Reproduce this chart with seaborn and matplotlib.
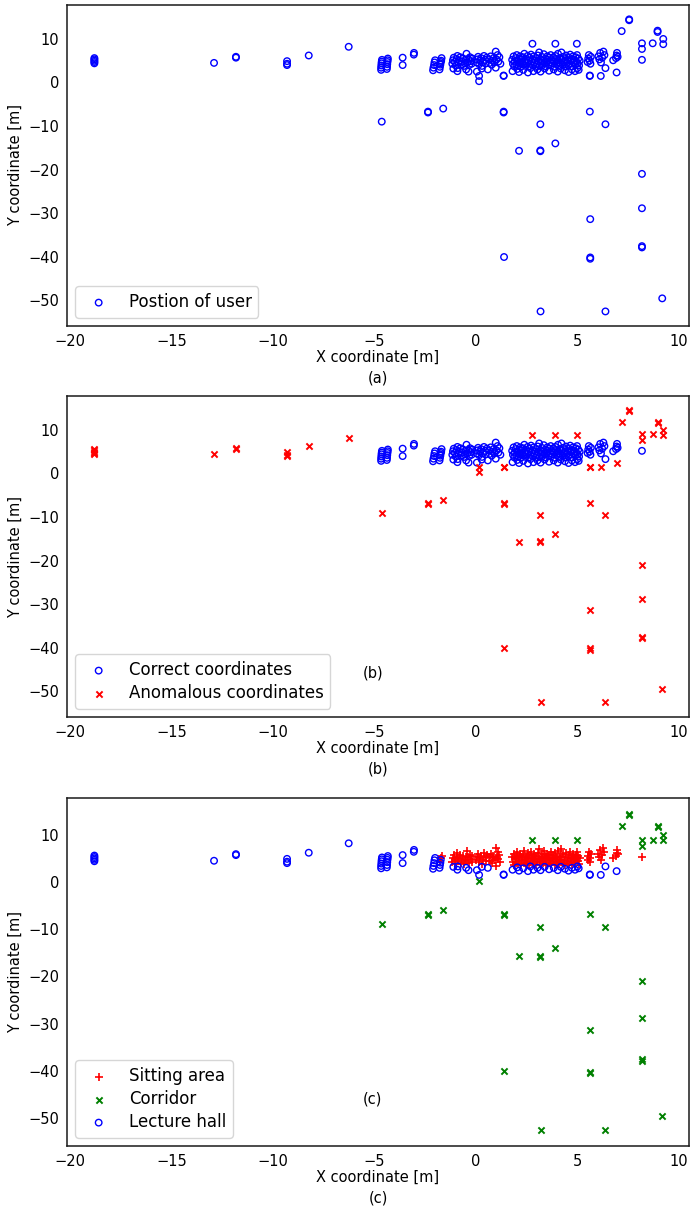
import matplotlib
matplotlib.use("Agg")
import matplotlib.pyplot as plt
import seaborn as sns

# ---------------- data ----------------
# Sitting area points (red "+", correct coordinates)
sitting_x = [-1.75, -1.70, -1.68,
             -1.15, -1.12, -1.08, -1.02, -0.98, -0.94, -0.90, -0.86, -0.80, -0.76, -0.72, -0.68,
             -0.62, -0.58, -0.54, -0.50, -0.45, -0.41, -0.37, -0.32, -0.28, -0.24, -0.20, -0.16,
             0.04, 0.08, 0.12, 0.18, 0.22, 0.27, 0.31, 0.36, 0.41, 0.46, 0.50, 0.55,
             0.66, 0.70, 0.74, 0.79, 0.84, 0.88, 0.93, 0.99, 0.99, 1.03, 1.08, 1.12, 1.17, 1.22,
             1.80, 1.84, 1.87, 1.90, 1.93, 1.97, 2.00, 2.03, 2.06, 2.10, 2.13, 2.16, 2.20, 2.23,
             2.26, 2.30, 2.33, 2.36, 2.40, 2.43, 2.46, 2.50, 2.53, 2.56, 2.60, 2.63, 2.66, 2.70,
             2.73, 2.76, 2.80, 2.83, 2.86, 2.90, 2.93, 2.96, 3.00, 3.03, 3.06, 3.10, 3.13, 3.16,
             3.20, 3.23, 3.26, 3.30, 3.33, 3.36, 3.40, 3.43, 3.46, 3.50, 3.53, 3.56, 3.60, 3.63,
             3.66, 3.70, 3.73, 3.76, 3.80, 3.83, 3.86, 3.90, 3.93, 3.96, 4.00, 4.03, 4.06, 4.10,
             4.13, 4.16, 4.20, 4.23, 4.26, 4.30, 4.33, 4.36, 4.40, 4.43, 4.46, 4.50, 4.53, 4.56,
             4.60, 4.63, 4.66, 4.70, 4.73, 4.76, 4.80, 4.83, 4.86, 4.90, 4.93, 4.96, 5.00, 5.03,
             5.06, 5.10, 5.13,
             5.52, 5.55, 5.58, 5.62, 5.66, 5.68,
             6.05, 6.10, 6.14, 6.18, 6.24, 6.30, 6.35,
             6.78, 6.92, 6.95, 6.97, 7.00,
             8.20]
sitting_y = [4.4, 5.0, 5.6,
             4.3, 5.1, 5.7, 4.7, 3.9, 5.4, 6.1, 4.5, 5.0, 5.8, 4.1, 4.8,
             5.5, 3.8, 4.4, 5.2, 6.6, 4.6, 5.4, 4.0, 5.8, 4.9, 4.3, 5.5,
             4.6, 5.3, 5.9, 4.2, 5.0, 5.6, 3.8, 4.7, 6.1, 5.2, 4.4, 5.7,
             5.3, 4.5, 6.0, 4.1, 5.0, 5.6, 4.6, 7.1, 3.4, 5.3, 6.3, 4.8, 5.8, 4.3,
             5.2, 4.3, 6.0, 3.7, 4.8, 5.6, 4.1, 6.3, 5.0, 3.9, 5.5, 4.5, 6.0, 3.6,
             5.2, 4.7, 5.8, 4.1, 6.6, 4.9, 3.8, 5.4, 4.4, 6.1, 5.0, 3.7, 5.7, 4.3,
             6.4, 4.8, 5.3, 3.9, 6.0, 4.6, 5.1, 3.6, 5.6, 4.2, 6.2, 4.9, 6.9, 3.8,
             5.3, 4.5, 5.9, 4.0, 5.0, 6.5, 4.4, 5.5, 3.7, 4.8, 6.0, 5.2, 4.1, 5.7,
             4.6, 6.3, 3.9, 5.1, 4.4, 5.8, 4.9, 3.6, 6.1, 5.4, 4.2, 5.0, 6.6, 4.6,
             3.8, 5.6, 4.3, 6.9, 5.2, 4.0, 5.9, 4.7, 3.7, 5.4, 6.2, 4.5, 5.0, 3.9,
             5.7, 4.3, 6.4, 4.9, 5.3, 3.7, 6.0, 4.6, 5.1, 4.1, 5.8, 4.8, 6.3, 4.4,
             5.5, 3.9, 5.0,
             4.7, 5.5, 6.3, 5.0, 4.3, 5.9,
             6.0, 5.3, 6.8, 4.6, 5.7, 7.1, 6.3,
             5.1, 5.6, 6.2, 6.8, 5.9,
             5.2]

# Lecture hall points judged correct
hall_ok_x = [-4.66, -4.66, -4.65, -4.64, -4.63, -4.62, -4.38, -4.37, -4.36, -4.35, -4.34, -4.33,
             -3.60, -3.60, -3.05, -3.04,
             -2.10, -2.08, -2.05, -2.03, -2.00, -1.78, -1.76, -1.74, -1.72,
             -1.10, -0.90, -0.88, -0.47, -0.35, 0.06, 0.30, 0.60,
             1.82, 2.05, 2.14, 2.35, 2.58, 2.70, 2.85, 3.05, 3.20, 3.40, 3.62, 3.85, 4.05,
             4.20, 4.40, 4.58, 4.75, 4.90, 5.02, 5.08, 6.40]
hall_ok_y = [2.9, 3.4, 3.9, 4.4, 4.8, 5.2, 3.1, 3.6, 4.2, 4.7, 5.1, 5.5,
             4.0, 5.7, 6.4, 6.8,
             2.8, 3.4, 4.0, 4.6, 5.1, 3.0, 3.6, 4.1, 4.7,
             3.2, 2.6, 3.3, 3.0, 2.5, 2.5, 3.2, 3.0,
             2.6, 3.1, 2.4, 2.9, 2.3, 3.3, 2.6, 3.0, 2.5, 3.2, 2.7, 3.0, 2.5,
             3.2, 2.8, 2.4, 3.0, 2.6, 3.3, 2.9, 3.3]

# Lecture hall points judged anomalous
hall_anom_x = [-18.8, -18.8, -18.8, -18.8, -18.8, -12.9, -11.82, -11.82, -9.3, -9.3, -9.3,
               -8.23, -6.26, 0.17, 1.38, 1.38, 5.63, 5.63, 6.17, 6.95]
hall_anom_y = [4.4, 4.7, 5.0, 5.3, 5.6, 4.5, 5.7, 5.9, 4.0, 4.3, 4.9,
               6.2, 8.2, 1.5, 1.5, 1.6, 1.5, 1.6, 1.5, 2.3]

# Corridor points (all anomalous)
corridor_x = [0.17, 2.80, 3.93, 4.99, 7.20, 7.57, 7.57, 8.20, 8.20, 8.73, 8.97, 8.97, 9.25, 9.25,
              -4.63, -2.35, -2.35, -1.60, 1.38, 1.38, 3.19, 2.14, 3.19, 3.19, 3.93, 5.63, 6.40,
              8.20, 5.65, 8.20, 8.20, 8.20, 5.65, 5.65, 1.40, 3.20, 6.40, 9.20]
corridor_y = [0.3, 8.9, 8.9, 8.9, 11.8, 14.3, 14.5, 9.0, 7.7, 9.0, 11.6, 11.9, 10.0, 8.8,
              -9.0, -6.7, -6.9, -6.0, -6.7, -6.9, -9.6, -15.7, -15.6, -15.8, -14.0, -6.7, -9.6,
              -21.0, -31.4, -28.9, -37.6, -37.9, -40.2, -40.5, -40.1, -52.6, -52.6, -49.6]

x_ticks = [-20, -15, -10, -5, 0, 5, 10]
y_ticks = [10, 0, -10, -20, -30, -40, -50]
panel_tags = ["(a)", "(b)", "(c)"]

# ---------------- figure ----------------
sns.set_style("white")
plt.rcParams["font.family"] = ["DejaVu Sans"]
plt.rcParams["text.color"] = "black"
plt.rcParams["axes.labelcolor"] = "black"
plt.rcParams["xtick.color"] = "black"
plt.rcParams["ytick.color"] = "black"

W, H = 691, 1217
fig = plt.figure(figsize=(W / 100, H / 100), dpi=100)

def add_ax(top, bottom, left=67, right=689):
    return fig.add_axes([left / W, 1 - bottom / H, (right - left) / W, (bottom - top) / H])

ax1 = add_ax(5, 326)
ax2 = add_ax(396, 717)
ax3 = add_ax(798, 1146)

circ = dict(marker="o", s=22, color="blue", facecolor="none", edgecolor="blue", linewidth=1.0)
cross_red = dict(marker="x", s=20, color="red", linewidth=1.4)
cross_green = dict(marker="x", s=20, color="green", linewidth=1.4)
plus_red = dict(marker="+", s=30, color="red", linewidth=1.2)

# Panel (a): all positions
all_x = sitting_x + hall_ok_x + hall_anom_x + corridor_x
all_y = sitting_y + hall_ok_y + hall_anom_y + corridor_y
sns.scatterplot(x=all_x, y=all_y, ax=ax1, label="Postion of user", **circ)

# Panel (b): correct vs anomalous
sns.scatterplot(x=sitting_x + hall_ok_x, y=sitting_y + hall_ok_y, ax=ax2,
                label="Correct coordinates", **circ)
sns.scatterplot(x=hall_anom_x + corridor_x, y=hall_anom_y + corridor_y, ax=ax2,
                label="Anomalous coordinates", **cross_red)

# Panel (c): zones
sns.scatterplot(x=sitting_x, y=sitting_y, ax=ax3, label="Sitting area", **plus_red)
sns.scatterplot(x=corridor_x, y=corridor_y, ax=ax3, label="Corridor", **cross_green)
sns.scatterplot(x=hall_ok_x + hall_anom_x, y=hall_ok_y + hall_anom_y, ax=ax3,
                label="Lecture hall", **circ)

ax2.text(-5.07, -45.9, "(b)", ha="center", va="center", fontsize=10.5)
ax3.text(-5.07, -45.9, "(c)", ha="center", va="center", fontsize=10.5)

for ax, tag in zip([ax1, ax2, ax3], panel_tags):
    ax.set_xlim(-20.15, 10.52)
    ax.set_ylim(-55.95, 17.8)
    ax.set_xticks(x_ticks)
    ax.set_yticks(y_ticks)
    ax.tick_params(axis="both", length=0, pad=5.6, labelsize=10.5, colors="black")
    ax.set_xlabel("X coordinate [m]\n" + tag, fontsize=10.5, labelpad=1, linespacing=1.45)
    ax.set_ylabel("Y coordinate [m]", fontsize=10.5)
    for sp in ax.spines.values():
        sp.set_color("0.1")
        sp.set_linewidth(1.1)
    ax.legend(loc="lower left", fontsize=12, labelspacing=0.3)

fig.savefig("out.png", dpi=100)
